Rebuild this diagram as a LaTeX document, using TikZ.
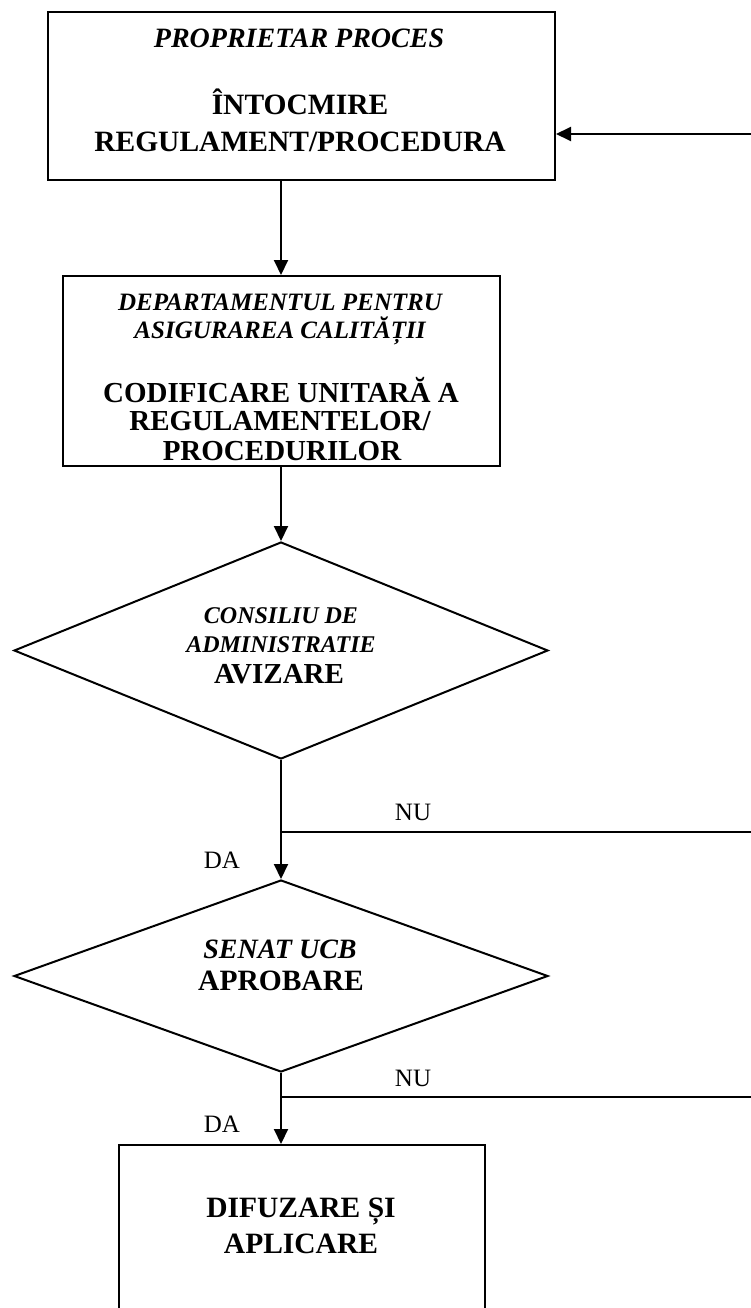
\documentclass[tikz,border=0pt]{standalone}
\usepackage{fontspec}
\setmainfont{Liberation Serif}
\usetikzlibrary{shapes.geometric,arrows.meta}
\begin{document}
\begin{tikzpicture}[x=1pt,y=-1pt, line width=2pt,
  box/.style={draw, rectangle, inner sep=0pt},
  dec/.style={draw, diamond, inner sep=0pt},
  it/.style={font=\fontsize{#1}{#1}\selectfont\bfseries\itshape, anchor=base, inner sep=0pt},
  it/.default=25,
  bf/.style={font=\fontsize{#1}{#1}\selectfont\bfseries, anchor=base, inner sep=0pt},
  bf/.default=29,
  lab/.style={font=\fontsize{25}{29}\selectfont, anchor=base, inner sep=0pt},
  arr/.style={-{Triangle[length=15pt,width=14pt]}}]
\useasboundingbox (0,0) rectangle (750,1308);

% shapes
\node[box, minimum width=507pt, minimum height=168pt] (b1) at (301.5,96) {};
\node[box, minimum width=437pt, minimum height=190pt] (b2) at (281,371) {};
\node[dec, minimum width=534pt, minimum height=217pt] (d1) at (281,650.5) {};
\node[dec, minimum width=534pt, minimum height=192pt] (d2) at (281,976) {};
\node[box, minimum width=366pt, minimum height=250pt] (b3) at (302,1270) {};

% texts
\node[it=28] (t1) at (299,48) {PROPRIETAR PROCES};
\node[bf=29.5] (t2) at (300,115) {ÎNTOCMIRE};
\node[bf=29.5] (t3) at (300,152) {REGULAMENT/PROCEDURA};

\node[it] (t4) at (280,310) {DEPARTAMENTUL PENTRU};
\node[it] (t5) at (280,338) {ASIGURAREA CALITĂȚII};
\node[bf] (t6) at (281,402) {CODIFICARE UNITARĂ A};
\node[bf] (t7) at (280,430) {REGULAMENTELOR/};
\node[bf] (t8) at (282,460) {PROCEDURILOR};

\node[it=24] (t9) at (281,623) {CONSILIU DE};
\node[it=24] (t10) at (281,652) {ADMINISTRATIE};
\node[bf] (t11) at (279,683) {AVIZARE};

\node[it=28] (t12) at (280,958) {SENAT UCB};
\node[bf=29.5] (t13) at (281,990) {APROBARE};

\node[bf=29.5] (t14) at (301,1217) {DIFUZARE ȘI};
\node[bf=29.5] (t15) at (301,1253) {APLICARE};

\node[lab] (nu1) at (413,820) {NU};
\node[lab] (da1) at (222,868) {DA};
\node[lab] (nu2) at (413,1086) {NU};
\node[lab] (da2) at (222,1132) {DA};

% connectors
\coordinate (r0) at (751,134);
\coordinate (n1) at (751,832);
\coordinate (n2) at (751,1097);
\draw[arr] (b1.south -| b2.north) -- (b2.north);
\draw[arr] (b2.south) -- (d1.north);
\draw[arr] (d1.south) -- (d2.north);
\draw[arr] (d2.south) -- (d2.south |- b3.north);
\draw (d1.south |- n1) -- (n1);
\draw (d2.south |- n2) -- (n2);
\draw[arr] (r0) -- (b1.east |- r0);
\end{tikzpicture}
\end{document}
